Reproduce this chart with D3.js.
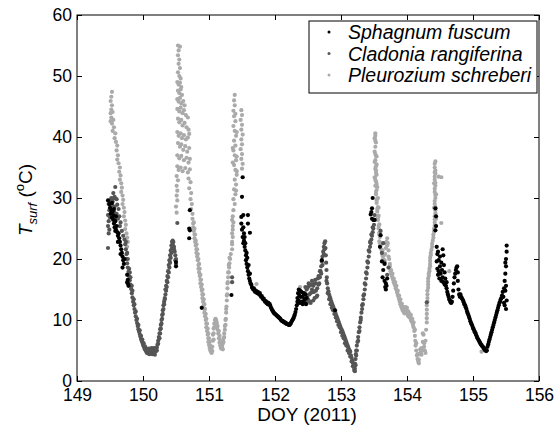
<!DOCTYPE html>
<html>
<head>
<meta charset="utf-8">
<script src="https://cdn.jsdelivr.net/npm/d3@7"></script>
<style>
  body { margin: 0; background: #fff; }
  text { font-family: "Liberation Sans", Arial, Helvetica, sans-serif; fill: #000; }
</style>
</head>
<body>
<div id="chart"></div>
<script>
// tick labels
const doyTicks  = [149, 150, 151, 152, 153, 154, 155, 156];
const tempTicks = [0, 10, 20, 30, 40, 50, 60];
const seriesNames = ["Sphagnum fuscum", "Cladonia rangiferina", "Pleurozium schreberi"];

// [DOY, Tsurf]
const sphagnum = [
  [149.47,29.6],[149.49,29.0],[149.50,28.4],[149.52,28.0],[149.51,27.4],[149.54,27.8],[149.53,26.8],[149.55,26.4],
  [149.56,25.8],[149.58,26.2],[149.57,25.2],[149.59,24.8],[149.60,25.4],[149.61,24.4],[149.62,23.8],[149.63,24.2],
  [149.64,23.4],[149.65,22.8],[149.66,22.2],[149.67,21.6],[149.68,21.0],[149.69,20.4],[149.70,19.8],[149.71,19.2],
  [149.72,20.0],[149.53,29.2],[149.56,28.2],[149.59,27.0],[149.55,27.2],[149.58,24.6],[149.62,22.8],[149.66,20.8],
  [149.69,18.6],[149.76,17.4],[149.77,16.6],[149.77,16.0],[149.78,15.6],[149.76,16.2],
  [150.50,19.5],[150.50,18.8],[150.70,25.0],[150.70,23.4],[150.71,28.0],[150.71,24.7],[150.89,12.0],[151.34,14.1],
  [151.51,33.4],[151.50,30.2],
  [151.49,26.9],[151.52,27.2],[151.59,27.2],[151.59,25.8],[151.62,24.3],[151.49,25.8],[151.50,24.8],[151.51,23.6],
  [151.52,22.6],[151.52,25.2],[151.53,24.2],[151.53,23.0],[151.54,23.6],[151.54,22.0],[151.55,21.4],[151.55,22.6],
  [151.56,20.6],[151.56,19.8],[151.57,21.0],[151.57,19.2],[151.58,18.6],[151.58,20.2],[151.59,18.0],[151.60,17.4],
  [151.60,19.0],[151.61,16.8],[151.62,17.6],
  [151.62,16.4],[151.63,16.0],[151.64,15.8],[151.65,15.4],[151.66,15.2],[151.67,15.0],[151.68,15.2],[151.69,14.8],
  [151.70,14.6],[151.71,14.8],[151.72,14.6],[151.73,14.4],[151.74,14.6],[151.75,14.4],[151.76,14.2],[151.77,14.4],
  [151.78,14.0],[151.79,13.8],[151.80,13.9],[151.81,13.6],[151.82,13.4],[151.83,13.5],[151.84,13.2],[151.85,13.0],
  [151.86,13.1],[151.87,12.8],[151.88,12.9],[151.89,12.6],[151.90,12.8],[151.91,12.5],[151.92,12.6],[151.93,12.3],
  [151.94,12.0],[151.95,11.8],[151.96,11.6],[151.97,11.4],[151.98,11.2],[151.99,11.1],[152.00,11.0],[152.01,10.9],
  [152.02,10.8],[152.03,10.7],[152.04,10.6],[152.05,10.5],[152.06,10.4],[152.07,10.3],[152.08,10.2],[152.09,10.0],
  [152.10,9.9],[152.11,9.8],[152.12,9.8],[152.13,9.7],[152.14,9.6],[152.15,9.6],[152.16,9.5],[152.17,9.4],
  [152.18,9.4],[152.19,9.3],[152.20,9.3],[152.21,9.2],[152.22,9.2],[152.23,9.3],[152.24,9.5],[152.25,9.7],
  [152.26,9.9],[152.27,10.1],[152.28,10.3],[152.29,10.6],[152.30,10.9],[152.31,11.3],[152.32,11.8],[152.33,12.4],
  [152.34,13.0],
  [152.34,13.6],[152.35,14.4],[152.36,13.2],[152.37,14.0],[152.38,12.8],[152.39,13.8],[152.40,14.6],[152.41,13.0],
  [152.42,13.8],[152.43,14.4],[152.44,12.8],[152.45,13.4],[152.46,14.2],[152.47,12.6],[152.48,13.6],[152.35,12.8],
  [152.38,14.8],[152.42,12.6],[152.36,15.0],
  [152.71,19.8],[152.91,11.6],
  [153.45,27.3],[153.47,28.3],[153.48,30.0],[153.49,26.4],[153.47,26.6],[153.51,26.4],[153.46,27.7],[153.60,23.9],
  [153.59,22.0],[153.62,19.6],[153.64,18.2],[153.66,16.4],[153.67,15.4],[153.68,16.0],[153.69,15.6],[153.70,16.8],
  [153.66,19.2],[153.63,17.0],[153.68,15.0],
  [154.43,28.3],[154.43,24.7],[154.44,27.0],[154.44,25.4],
  [154.45,22.0],[154.46,20.8],[154.45,19.6],[154.46,18.4],[154.47,17.4],[154.47,21.2],[154.48,19.8],[154.48,18.0],
  [154.49,16.8],[154.50,20.4],[154.50,18.8],[154.51,17.6],[154.52,16.4],[154.52,19.4],[154.53,18.2],[154.54,21.6],
  [154.54,17.0],[154.55,20.6],[154.55,16.2],[154.56,19.0],[154.57,17.8],[154.57,15.8],[154.58,16.8],[154.59,15.6],
  [154.60,16.2],[154.60,15.2],[154.61,14.6],[154.62,14.2],[154.63,13.8],[154.64,13.4],[154.65,13.2],[154.66,12.9],
  [154.67,12.8],[154.68,13.0],[154.69,13.8],[154.70,14.8],[154.71,16.0],[154.72,17.0],[154.73,17.6],[154.74,18.2],
  [154.75,18.6],[154.76,18.8],[154.77,17.8],[154.77,16.4],[154.78,15.0],[154.79,14.2],[154.80,13.8],[154.81,14.2],
  [154.82,13.8],[154.83,13.6],[154.84,13.4],[154.85,13.2],[154.86,12.9],[154.87,12.6],[154.88,12.4],[154.89,12.1],
  [154.90,11.8],[154.91,11.4],[154.92,11.1],[154.93,10.8],[154.94,10.5],[154.95,10.2],[154.96,9.8],[154.97,9.5],
  [154.98,9.3],[154.99,9.0],[155.00,8.7],[155.01,8.5],[155.02,8.2],[155.03,8.0],[155.04,7.8],[155.05,7.5],
  [155.06,7.2],[155.07,7.0],[155.08,6.8],[155.09,6.6],[155.10,6.4],[155.11,6.2],[155.12,6.0],[155.13,5.9],
  [155.14,5.7],[155.15,5.6],[155.16,5.4],[155.17,5.3],[155.18,5.1],[155.19,5.0],[155.20,4.9],[155.21,5.0],
  [155.22,5.6],[155.23,6.0],[155.24,6.4],[155.25,6.8],[155.26,7.2],[155.27,7.6],[155.28,8.0],[155.29,8.4],
  [155.30,8.8],[155.31,9.2],[155.32,9.6],[155.33,10.0],[155.34,10.4],[155.35,10.8],[155.36,11.2],[155.37,11.6],
  [155.38,12.0],[155.39,12.4],[155.40,12.8],[155.41,13.0],[155.42,13.4],[155.43,13.6],[155.44,14.0],[155.45,14.6],
  [155.46,13.8],[155.47,15.2],[155.48,12.4],[155.48,16.4],[155.49,14.8],[155.49,17.6],[155.50,11.8],[155.50,18.8],
  [155.50,20.0],[155.51,21.2],[155.51,22.2],[155.50,15.6],[155.51,13.2],[155.49,19.4],[155.47,12.8]
];

const cladonia = [
  [149.58,31.8],[149.55,30.8],[149.57,30.2],[149.52,30.0],[149.50,29.6],[149.54,29.4],[149.60,29.8],[149.48,29.0],
  [149.53,28.8],[149.57,28.6],[149.61,28.9],[149.63,28.2],[149.49,28.0],[149.52,27.6],[149.56,27.8],[149.60,27.4],
  [149.64,27.0],[149.47,27.2],[149.50,26.8],[149.54,26.6],[149.58,26.4],[149.62,26.6],[149.66,26.0],[149.48,26.2],
  [149.47,25.4],[149.49,24.8],[149.48,24.2],[149.47,21.8],[149.55,29.9],[149.51,28.4],[149.59,27.0],[149.65,25.4],
  [149.68,24.6],[149.70,23.8],
  [149.72,23.2],[149.73,22.4],[149.74,21.6],[149.75,20.8],[149.75,20.0],[149.76,19.3],[149.77,18.6],[149.78,17.9],
  [149.79,17.2],[149.80,16.5],[149.81,15.8],[149.82,15.1],[149.83,14.4],[149.84,13.7],[149.85,13.0],[149.86,12.4],
  [149.87,11.8],[149.88,11.2],[149.89,10.6],[149.90,10.0],[149.91,9.5],[149.92,9.0],[149.93,8.5],[149.94,8.1],
  [149.95,7.7],[149.96,7.3],[149.97,6.9],[149.98,6.6],[149.99,6.3],[150.00,6.0],[150.01,5.7],[150.02,5.4],
  [150.03,5.2],[150.04,5.0],[150.05,4.8],[150.06,4.6],[150.07,4.9],[150.08,4.5],[150.09,4.8],[150.10,4.4],
  [150.11,4.9],[150.12,4.6],[150.13,5.0],[150.14,4.4],[150.15,4.8],[150.16,4.5],[150.17,4.9],[150.18,4.3],
  [150.19,4.8],[150.20,5.0],[150.21,5.5],[150.22,6.0],[150.23,6.6],[150.24,7.2],[150.25,7.8],[150.26,8.5],
  [150.27,9.2],[150.28,10.0],[150.29,10.8],[150.30,11.6],[150.31,12.4],[150.32,13.0],[150.33,13.6],[150.34,14.2],
  [150.35,14.8],[150.36,15.4],[150.37,16.2],[150.38,17.0],[150.39,17.8],[150.40,18.6],[150.41,19.4],[150.42,20.2],
  [150.43,21.0],[150.44,21.8],[150.45,22.4],[150.46,22.8],[150.47,22.0],[150.48,21.2],[150.49,20.6],[150.50,20.0],
  [149.74,22.8],[149.76,21.0],[149.77,20.0],[149.79,18.4],[149.80,17.8],[149.81,17.0],[149.83,15.6],[149.84,14.8],
  [149.86,13.4],[149.87,12.6],[149.89,11.4],[149.91,10.2],[149.93,9.2],[149.95,8.3],[149.97,7.4],[149.99,6.8],
  [150.01,6.2],[150.03,5.7],[150.05,5.3],[150.07,5.2],[150.09,5.3],[150.11,5.2],[150.13,5.4],[150.15,5.3],
  [150.17,5.4],[150.19,5.2],[150.21,5.0],[150.23,6.1],[150.25,7.0],[150.26,7.8],[150.27,8.6],[150.28,9.4],
  [150.29,10.2],[150.30,11.0],[150.31,11.8],[150.32,12.6],[150.33,13.4],[150.34,15.0],[150.35,15.6],[150.36,16.4],
  [150.37,17.2],[150.38,18.0],[150.39,19.0],[150.40,19.8],[150.41,20.6],[150.42,21.4],[150.43,22.2],[150.44,22.8],
  [150.45,23.0],[150.47,21.6],[150.49,19.8],[150.50,19.2],
  [150.52,25.9],[151.35,17.0],[151.35,16.2],[154.30,12.9],[153.60,24.6],[153.62,21.0],[153.66,19.4],[153.70,17.4],
  [153.72,18.6],[153.64,22.6],
  [152.44,13.0],[152.45,14.4],[152.46,15.4],[152.47,13.6],[152.48,12.8],[152.49,14.0],[152.50,15.4],[152.51,16.0],
  [152.52,14.2],[152.53,13.0],[152.54,14.4],[152.55,15.8],[152.56,16.4],[152.57,14.6],[152.58,13.2],[152.59,14.6],
  [152.60,16.0],[152.61,16.6],[152.62,14.8],[152.63,13.8],[152.64,15.2],[152.65,16.8],[152.66,17.2],[152.67,16.0],
  [152.68,17.0],[152.69,18.0],[152.70,18.8],[152.71,19.6],[152.72,20.4],[152.73,21.2],[152.74,22.0],[152.75,22.6],
  [152.76,22.9],[152.765,21.8],[152.77,20.6],[152.775,19.4],[152.78,18.2],[152.785,17.0],[152.79,16.0],[152.80,15.2],
  [152.81,14.7],[152.82,14.2],[152.83,13.8],[152.84,13.5],[152.85,13.1],[152.86,12.8],[152.87,12.5],[152.88,12.2],
  [152.89,11.9],[152.90,11.6],[152.91,11.3],[152.92,11.0],[152.93,10.7],[152.94,10.4],[152.95,10.1],[152.96,9.8],
  [152.97,9.5],[152.98,9.2],[152.99,8.9],[153.00,8.6],[153.01,8.4],[153.02,8.2],[153.03,7.9],[153.04,7.6],
  [153.05,7.3],[153.06,7.0],[153.07,6.7],[153.08,6.4],[153.09,6.1],[153.10,5.8],[153.11,5.5],[153.12,5.2],
  [153.13,5.0],[153.14,4.8],[153.15,4.2],[153.16,3.8],[153.17,3.4],[153.18,3.0],[153.19,2.6],[153.20,2.2],
  [153.21,2.0],[153.215,2.8],[153.22,3.6],[153.225,4.4],[153.23,5.0],[153.24,5.8],[153.25,6.4],[153.26,7.2],
  [153.27,8.0],[153.28,8.8],[153.29,9.6],[153.30,10.4],[153.31,11.2],[153.32,11.8],[153.33,12.6],[153.34,13.4],
  [153.35,14.2],[153.36,15.0],[153.37,15.8],[153.38,16.8],[153.39,17.6],[153.40,18.6],[153.41,19.4],[153.42,20.4],
  [153.43,21.2],[153.44,22.0],[153.45,22.6],[153.46,23.2],[153.47,23.8],[153.48,24.4],[153.49,25.0],[153.50,25.6],
  [152.46,13.2],[152.48,15.0],[152.50,13.4],[152.52,15.6],[152.54,12.8],[152.56,15.0],[152.58,15.6],[152.60,13.6],
  [152.62,16.0],[152.64,14.0],[152.66,15.8],[152.68,18.0],[152.70,17.6],[152.72,19.0],[152.74,20.8],[152.75,21.6],
  [152.78,16.4],[152.80,14.4],[152.82,13.4],[152.84,12.6],[152.86,12.0],[152.88,11.6],[152.90,11.0],[152.92,10.4],
  [152.94,9.8],[152.96,9.2],[152.98,8.8],[153.00,8.0],[153.02,7.4],[153.04,7.0],[153.06,6.2],[153.08,5.8],
  [153.10,5.0],[153.12,4.6],[153.14,4.0],[153.16,3.2],[153.18,2.4],[153.20,1.8],[153.21,1.6],[153.22,2.6],
  [153.23,4.2],[153.24,5.0],[153.26,6.6],[153.28,8.2],[153.30,10.0],[153.32,12.4],[153.34,14.0],[153.36,16.0],
  [153.38,17.8],[153.40,19.6],[153.42,21.4],[153.44,22.8],[153.46,24.0],[153.48,25.2],[153.50,26.4],[153.51,27.2]
];

const pleurozium = [
  [149.53,47.4],[149.52,46.6],[149.51,45.9],[149.53,45.2],[149.52,44.5],[149.51,43.9],[149.54,44.1],[149.52,43.2],
  [149.55,42.8],[149.53,42.2],[149.51,42.6],[149.56,41.6],[149.54,41.0],[149.58,40.6],[149.57,39.8],[149.59,39.2],
  [149.61,38.6],[149.60,37.8],[149.62,37.0],[149.61,36.3],[149.63,35.7],[149.65,35.0],[149.64,34.3],[149.66,33.7],
  [149.65,33.0],[149.67,32.4],[149.68,31.7],[149.67,31.0],[149.69,30.4],[149.70,29.7],[149.69,29.0],[149.71,28.4],
  [149.72,27.7],[149.71,27.0],[149.73,26.3],[149.74,25.6],[149.73,24.9],[149.75,24.2],[149.76,23.5],[149.77,22.8],
  [149.76,22.0],
  [150.53,55.0],[150.56,54.8],[150.54,54.2],[150.53,53.4],[150.55,52.7],[150.54,52.0],[150.56,51.3],[150.53,50.6],
  [150.55,50.0],[150.57,49.6],[150.52,49.0],[150.54,48.6],[150.56,48.9],[150.58,48.2],[150.53,47.6],[150.55,47.2],
  [150.57,47.8],[150.59,46.9],[150.52,46.2],[150.54,45.8],[150.56,46.4],[150.58,45.5],[150.61,45.9],[150.63,45.2],
  [150.52,44.6],[150.55,44.2],[150.57,44.8],[150.60,43.9],[150.62,44.4],[150.65,43.6],[150.68,43.2],[150.53,43.0],
  [150.55,42.4],[150.58,42.8],[150.60,41.9],[150.63,42.3],[150.66,41.6],[150.69,41.2],[150.52,40.8],[150.54,40.2],
  [150.57,40.6],[150.59,39.8],[150.62,40.3],[150.65,39.6],[150.68,39.9],[150.70,40.5],[150.53,39.0],[150.56,38.4],
  [150.58,38.8],[150.61,37.9],[150.64,38.5],[150.67,37.6],[150.70,38.2],[150.52,37.0],[150.55,36.5],[150.58,36.9],
  [150.62,36.2],[150.66,36.6],[150.69,35.8],[150.71,36.4],[150.52,35.2],[150.54,34.6],[150.57,35.0],[150.60,34.4],
  [150.64,34.9],[150.68,34.2],[150.71,34.7],[150.51,33.6],[150.53,32.9],[150.69,33.2],[150.72,32.6],[150.51,32.0],
  [150.52,31.2],[150.70,31.6],[150.73,30.8],[150.51,30.4],[150.52,29.6],[150.72,29.8],[150.74,29.0],[150.50,28.6],
  [150.73,28.2],[150.75,27.4],[150.51,27.6],
  [150.75,26.6],[150.76,25.8],[150.76,25.2],[150.77,24.6],[150.78,24.0],[150.78,23.4],[150.79,22.8],[150.80,22.2],
  [150.81,21.6],[150.81,21.0],[150.82,20.4],[150.83,19.8],[150.84,19.0],[150.84,18.4],[150.85,17.8],[150.86,17.2],
  [150.87,16.6],[150.87,16.0],[150.88,15.4],[150.89,14.8],[150.90,14.2],[150.90,13.6],[150.91,13.0],[150.92,12.4],
  [150.93,11.8],[150.93,11.2],[150.94,10.6],[150.95,10.0],[150.96,9.4],[150.96,8.8],[150.97,8.2],[150.98,7.6],
  [150.99,7.0],[150.99,6.4],[151.00,5.9],[151.01,5.4],[151.02,5.0],[151.03,4.8],[151.04,5.0],[151.05,5.6],
  [151.06,6.6],[151.06,7.6],[151.07,8.6],[151.08,9.4],[151.09,10.0],[151.10,9.6],[151.11,9.2],[151.12,8.8],
  [151.13,8.4],[151.14,7.8],[151.15,7.0],[151.16,6.3],[151.17,5.8],[151.18,5.4],[151.19,5.3],[151.20,5.6],
  [151.21,6.2],[151.22,7.0],[151.23,7.8],[151.24,8.4],[151.25,9.2],[151.255,10.2],[151.26,11.2],[151.265,12.2],
  [151.27,13.2],[151.275,14.2],[151.28,15.2],[151.285,16.2],[151.29,17.0],[151.30,17.8],[151.305,18.6],[151.31,19.3],
  [151.32,20.0],[151.33,20.8],
  [150.77,26.0],[150.78,25.0],[150.79,24.0],[150.80,23.0],[150.81,22.4],[150.82,21.6],[150.83,20.8],[150.84,20.0],
  [150.85,19.2],[150.86,18.4],[150.87,17.4],[150.88,16.6],[150.89,15.8],[150.90,15.0],[150.91,14.2],[150.92,13.4],
  [150.93,12.6],[150.94,11.8],[150.95,11.0],[150.96,10.2],[150.97,9.4],[150.98,8.6],[150.99,7.8],[151.00,7.0],
  [151.01,6.4],[151.02,5.8],[151.03,5.4],[151.04,4.6],[151.05,4.9],[151.07,6.8],[151.07,7.8],[151.08,8.8],
  [151.10,10.2],[151.11,9.9],[151.12,9.5],[151.13,9.0],[151.15,8.2],[151.16,7.4],[151.17,6.6],[151.18,6.0],
  [151.19,5.8],[151.20,6.0],[151.21,5.2],[151.22,6.4],[151.23,7.2],[151.24,9.0],[151.25,10.0],[151.26,11.8],
  [151.27,14.0],[151.28,16.0],[151.29,17.8],[151.30,19.0],[151.31,20.2],
  [151.35,21.6],[151.35,22.8],[151.35,24.2],[151.36,25.4],[151.35,26.4],
  [151.39,46.9],[151.38,46.0],[151.39,45.2],[151.37,44.3],[151.38,43.4],[151.40,42.6],[151.37,41.8],[151.39,41.0],
  [151.41,40.2],[151.38,39.4],[151.40,38.6],[151.37,37.8],[151.39,37.0],[151.41,36.2],[151.38,35.4],[151.40,34.6],
  [151.42,33.8],[151.39,33.0],[151.41,32.2],[151.38,31.4],[151.40,30.6],[151.37,29.8],[151.39,29.0],[151.37,28.0],
  [151.36,27.0],[151.37,26.0],[151.36,24.8],[151.36,23.6],[151.35,22.4],[151.40,43.8],[151.42,40.8],[151.36,38.2],
  [151.42,36.8],[151.36,35.8],[151.42,34.4],[151.41,31.2],
  [151.49,44.4],[151.50,43.6],[151.48,42.8],[151.50,42.0],[151.49,41.2],[151.51,40.4],[151.49,39.6],[151.50,38.8],
  [151.48,38.0],[151.50,37.2],[151.49,36.4],[151.51,35.6],[151.50,34.8],
  [151.72,15.9],[152.38,15.4],
  [153.52,40.6],[153.51,39.8],[153.53,39.1],[153.52,38.4],[153.51,37.6],[153.53,36.9],[153.52,36.2],[153.54,35.5],
  [153.52,34.8],[153.53,34.1],[153.51,33.4],[153.53,32.7],[153.52,32.0],[153.54,31.3],[153.53,30.6],[153.55,29.9],
  [153.54,29.2],[153.56,28.5],[153.55,27.8],[153.57,27.1],[153.56,26.4],[153.58,25.7],[153.57,25.0],[153.58,24.3],
  [153.59,23.6],[153.58,22.9],[153.54,36.8],[153.53,35.2],[153.54,33.8],[153.55,31.8],[153.56,30.0],[153.57,28.4],
  [153.52,40.2],[153.52,39.4],[153.52,37.2],[153.51,35.9],[153.53,34.5],[153.52,33.0],[153.54,32.3],[153.53,31.0],
  [153.54,29.6],[153.55,28.2],[153.56,26.8],[153.57,25.4],[153.58,24.0],[153.59,22.6],
  [153.60,22.2],[153.61,21.6],[153.62,21.0],[153.63,20.5],[153.64,20.0],[153.65,19.6],[153.66,19.8],[153.67,20.8],
  [153.68,21.8],[153.69,22.8],[153.70,23.4],[153.71,22.6],[153.72,21.4],[153.73,20.0],[153.74,18.8],[153.75,18.0],
  [153.76,17.6],[153.77,17.2],[153.78,16.9],[153.79,16.6],[153.80,16.2],[153.81,15.9],[153.82,15.6],[153.83,15.2],
  [153.84,14.9],[153.85,14.5],[153.86,14.1],[153.87,13.8],[153.88,13.4],[153.89,13.0],[153.90,12.6],[153.91,12.3],
  [153.92,12.0],[153.93,11.7],[153.94,11.5],[153.95,11.4],[153.96,11.7],[153.97,12.0],[153.98,12.1],[153.99,11.6],
  [154.00,11.2],[154.01,10.8],[154.02,10.6],[154.03,10.9],[154.04,11.0],[154.05,10.5],[154.06,10.0],[154.07,9.8],
  [154.08,9.6],[154.09,9.2],[154.10,8.8],[154.11,8.2],[154.12,7.4],[154.125,6.6],[154.13,5.8],[154.14,5.0],
  [154.15,4.2],[154.16,3.6],[154.17,3.2],[154.18,3.5],[154.19,4.4],[154.20,5.2],[154.21,4.8],[154.22,4.3],
  [154.23,5.0],[154.24,6.4],[154.25,7.6],[154.26,6.2],[154.27,5.0],[154.28,6.6],[154.29,8.4],
  [153.61,22.6],[153.63,21.4],[153.65,20.6],[153.68,22.6],[153.70,22.2],[153.72,20.4],[153.74,19.2],[153.76,18.2],
  [153.78,17.6],[153.80,16.8],[153.82,16.2],[153.84,15.6],[153.86,14.8],[153.88,14.0],[153.90,13.4],[153.92,12.7],
  [153.94,12.2],[153.96,11.1],[153.98,11.4],[154.00,12.0],[154.02,11.4],[154.04,10.4],[154.06,10.8],[154.08,10.2],
  [154.10,9.6],[154.12,8.4],[154.14,6.2],[154.16,4.4],[154.18,2.9],[154.20,4.4],[154.22,5.4],[154.24,7.8],
  [154.26,5.6],[154.28,4.6],
  [154.30,9.6],[154.30,11.0],[154.30,12.4],[154.31,13.6],[154.31,14.8],[154.32,15.8],[154.32,16.8],[154.33,17.6],
  [154.34,18.4],[154.35,19.2],[154.35,20.2],[154.36,21.0],[154.38,22.0],[154.39,23.0],[154.40,24.0],[154.41,25.0],
  [154.42,26.0],[154.42,27.0],[154.43,28.0],[154.42,29.0],[154.43,30.0],[154.42,31.0],[154.43,32.0],[154.42,33.0],
  [154.43,34.0],[154.42,35.0],[154.43,36.0],[154.42,35.6],[154.41,32.4],[154.44,30.6],[154.41,28.4],[154.44,26.6],
  [154.30,10.3],[154.30,11.7],[154.31,13.0],[154.31,14.2],[154.32,15.3],[154.32,16.3],[154.33,17.2],[154.34,18.0],
  [154.35,18.8],[154.35,19.7],[154.36,20.6],[154.37,21.5],[154.38,22.5],[154.40,23.5],[154.41,24.5],[154.42,25.5],
  [154.42,26.5],[154.43,27.5],[154.43,28.5],[154.42,29.5],[154.43,30.5],[154.42,31.5],[154.43,32.5],[154.42,33.5],
  [154.43,34.5],[154.42,34.2],
  [154.48,33.5],[154.52,33.4],[154.52,25.9],[154.57,16.5],[154.64,18.0],[155.13,4.8]
];

const seriesData   = [sphagnum, cladonia, pleurozium];
const seriesColors = ["#000000", "#555555", "#aaaaaa"];

const W = 559, H = 425;
const margin = { top: 15, right: 20, bottom: 44, left: 77 };
const width  = W - margin.left - margin.right;   // 462
const height = H - margin.top - margin.bottom;   // 366

const svg = d3.select("#chart").append("svg")
  .attr("width", W)
  .attr("height", H);

const g = svg.append("g")
  .attr("transform", `translate(${margin.left},${margin.top})`);

const x = d3.scaleLinear().domain([149, 156]).range([0, width]);
const y = d3.scaleLinear().domain([0, 60]).range([height, 0]);

g.append("clipPath").attr("id", "plot-clip")
  .append("rect").attr("width", width).attr("height", height);

// points: light series first so the darker ones sit on top
const dots = g.append("g").attr("clip-path", "url(#plot-clip)");
[2, 1, 0].forEach(i => {
  dots.append("g")
    .attr("fill", seriesColors[i])
    .selectAll("circle")
    .data(seriesData[i])
    .join("circle")
      .attr("cx", d => x(d[0]))
      .attr("cy", d => y(d[1]))
      .attr("r", 2.1);
});

// axes, ticks pointing inward on all four sides
const fmt = d3.format("d");
const xAxis = g.append("g")
  .attr("transform", `translate(0,${height})`)
  .call(d3.axisBottom(x).tickValues(doyTicks).tickFormat(fmt).tickSize(-5).tickSizeOuter(0).tickPadding(7.5));
const yAxis = g.append("g")
  .call(d3.axisLeft(y).tickValues(tempTicks).tickFormat(fmt).tickSize(-5).tickSizeOuter(0).tickPadding(5));
g.append("g")
  .call(d3.axisTop(x).tickValues(doyTicks).tickFormat("").tickSize(-5).tickSizeOuter(0));
g.append("g")
  .attr("transform", `translate(${width},0)`)
  .call(d3.axisRight(y).tickValues(tempTicks).tickFormat("").tickSize(-5).tickSizeOuter(0));

g.selectAll(".domain").remove();
g.selectAll(".tick line").attr("stroke", "#000");
xAxis.selectAll("text").style("font-size", "17.5px");
yAxis.selectAll("text").style("font-size", "17.5px");

g.append("rect")
  .attr("width", width)
  .attr("height", height)
  .attr("fill", "none")
  .attr("stroke", "#000")
  .attr("stroke-width", 1);

// axis labels
svg.append("text")
  .attr("x", 307)
  .attr("y", 421)
  .attr("text-anchor", "middle")
  .style("font-size", "19px")
  .text("DOY (2011)");

const yl = svg.append("text")
  .attr("transform", "translate(32,200) rotate(-90)")
  .attr("text-anchor", "middle")
  .style("font-size", "19px");
yl.append("tspan").style("font-style", "italic").text("T");
yl.append("tspan").style("font-style", "italic").style("font-size", "13px").attr("dy", 5).text("surf");
yl.append("tspan").attr("dy", -5).text(" (");
yl.append("tspan").style("font-size", "13px").attr("dy", -8).text("o");
yl.append("tspan").attr("dy", 8).text("C)");

// legend
const legend = svg.append("g").attr("transform", "translate(309,21)");
legend.append("rect")
  .attr("width", 228)
  .attr("height", 72)
  .attr("fill", "#fff")
  .attr("stroke", "#000")
  .attr("stroke-width", 1);

seriesNames.forEach((name, i) => {
  const row = legend.append("g").attr("transform", `translate(0,${11 + i * 21.5})`);
  row.append("circle")
    .attr("cx", 20)
    .attr("cy", 0)
    .attr("r", 1.5)
    .attr("fill", seriesColors[i]);
  row.append("text")
    .attr("x", 39)
    .attr("y", 0)
    .attr("dy", "0.36em")
    .style("font-size", "19.5px")
    .style("font-style", "italic")
    .text(name);
});
</script>
</body>
</html>
